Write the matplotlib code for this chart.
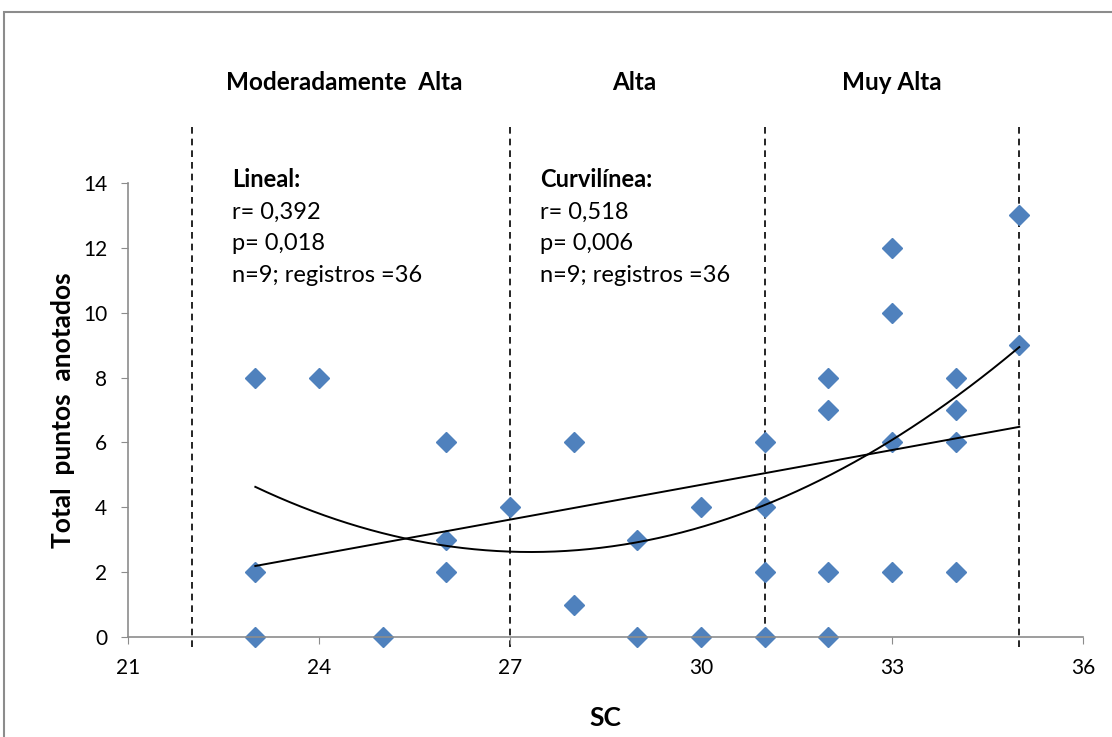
"""Total puntos anotados vs SC, with linear and quadratic trendlines."""

import matplotlib.pyplot as plt
import numpy as np
from matplotlib.patches import Rectangle

sc = [23, 23, 23, 24, 25, 26, 26, 26, 27, 28, 28, 29, 29, 30, 30,
      31, 31, 31, 31, 32, 32, 32, 32, 33, 33, 33, 33, 34, 34, 34, 34, 35, 35]
puntos = [8, 2, 0, 8, 0, 6, 3, 2, 4, 6, 1, 3, 0, 4, 0,
          6, 4, 2, 0, 8, 7, 2, 0, 12, 10, 6, 2, 8, 7, 6, 2, 13, 9]

lineal_x = [23, 35]
lineal_y = [2.19, 6.48]
curva_x = [23, 27.33, 31, 35]
curva_y = [4.63, 2.62, 4.07, 8.94]

limites = [22, 27, 31, 35]
categorias = ["Moderadamente  Alta", "Alta", "Muy Alta"]
categoria_x = [24.4, 28.95, 33.0]

lineal_txt = ["r= 0,392", "p= 0,018", "n=9; registros =36"]
curvi_txt = ["r= 0,518", "p= 0,006", "n=9; registros =36"]

FONT = "Lato"
GREY = "#8c8c8c"

fig = plt.figure(figsize=(11.12, 7.37), dpi=100)
ax = fig.add_axes([0.1151, 0.1357, 0.8588, 0.616])

xs = np.linspace(min(sc), max(sc), 200)
lin = np.polyfit(lineal_x, lineal_y, 1)
quad = np.polyfit(curva_x, curva_y, 2)
ax.plot(xs, np.polyval(lin, xs), color="black", lw=1.4, zorder=3)
ax.plot(xs, np.polyval(quad, xs), color="black", lw=1.4, zorder=3)

ax.plot(sc, puntos, linestyle="none", marker="D", markersize=10,
        color="#4F81BD", zorder=2, clip_on=False)

for xv in limites:
    ax.plot([xv, xv], [-0.3, 15.85], color="black", lw=1.2,
            linestyle=(0, (4, 3)), clip_on=False, zorder=1)

for label, xc in zip(categorias, categoria_x):
    ax.text(xc, 17.1, label, ha="center", va="center", fontsize=17.5,
            fontweight="bold", family=FONT)

for x0, head, rows in [(22.63, "Lineal:", lineal_txt),
                       (27.47, "Curvilínea:", curvi_txt)]:
    ax.text(x0, 14.1, head, ha="left", va="center", fontsize=17,
            fontweight="bold", family=FONT)
    for i, row in enumerate(rows):
        ax.text(x0, 13.1 - 0.97 * i, row, ha="left", va="center",
                fontsize=17, family=FONT)

ax.set_xlim(21, 36)
ax.set_ylim(0, 14)
ax.set_xticks(range(21, 37, 3))
ax.set_yticks(range(0, 15, 2))
ax.tick_params(colors=GREY, labelcolor="black", labelsize=15, length=5)
ax.tick_params(axis="x", pad=10)
ax.tick_params(axis="y", pad=10)
for lab in ax.get_xticklabels() + ax.get_yticklabels():
    lab.set_family(FONT)
for side in ("top", "right"):
    ax.spines[side].set_visible(False)
for side in ("left", "bottom"):
    ax.spines[side].set_color(GREY)
    ax.spines[side].set_linewidth(1.2)

ax.set_xlabel("SC", fontsize=19, fontweight="bold", family=FONT, labelpad=20)
ax.set_ylabel("Total  puntos  anotados", fontsize=19, fontweight="bold",
              family=FONT, labelpad=6)

fig.patches.append(Rectangle((0.0036, -0.05), 1.2, 0.9837 + 0.05,
                             transform=fig.transFigure, fill=False,
                             edgecolor=GREY, lw=1.5))

fig.savefig("out.png", dpi=100)
